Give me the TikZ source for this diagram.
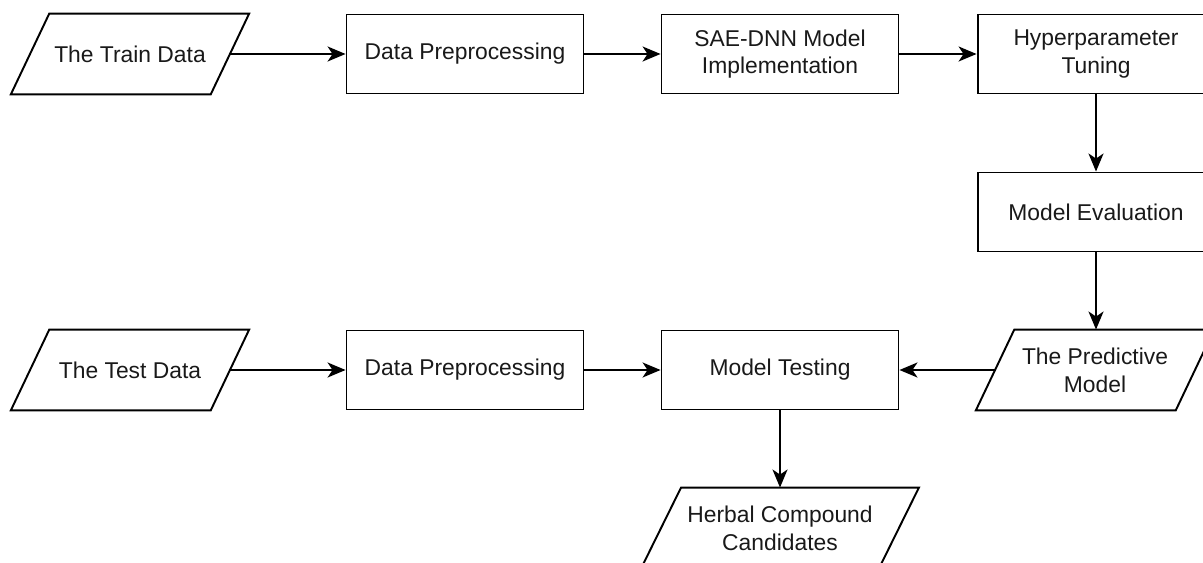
\documentclass[tikz,border=0pt]{standalone}
\usepackage{fontspec}
\setmainfont{Liberation Sans}
\usetikzlibrary{arrows.meta}
\tikzstyle{every picture}=[x=0.02cm,y=-0.02cm]
\tikzstyle{rand}=[line width=1.1pt]
\tikzstyle{kasten}=[draw,rand,minimum width=4.74cm,minimum height=1.58cm,inner sep=0pt,align=center,text=black!90,font=\fontsize{13}{15.8}\selectfont]
\tikzstyle{daten}=[kasten,draw=none,minimum width=3.96cm]
\tikzstyle{pfeil}=[rand,-{Stealth[length=3.6mm,width=3mm,inset=1mm]}]

\begin{document}
\begin{tikzpicture}
			\clip (0,0) rectangle (1203,563);
			% Obere Reihe
			\node[daten] (train) at (130,54) {The Train Data};
			\node[kasten] (prepA) at (465,54) {Data Preprocessing};
			\node[kasten] (sae) at (780,54) {SAE-DNN Model\\Implementation};
			\node[kasten] (hyper) at (1096,54) {Hyperparameter\\Tuning};
			% Rechte Spalte
			\node[kasten] (eval) at (1096,212) {Model Evaluation};
			\node[daten] (pred) at (1095,370) {The Predictive\\Model};
			% Untere Reihe
			\node[daten] (testdata) at (130,370) {The Test Data};
			\node[kasten] (prepB) at (465,370) {Data Preprocessing};
			\node[kasten] (mtest) at (780,370) {Model Testing};
			\node[daten,minimum width=4.72cm] (herbal) at (780,528) {Herbal Compound\\Candidates};
			% Parallelogramme zeichnen
			\foreach \n/\s in {train/0.385,testdata/0.385,pred/0.385,herbal/0.4}
				\draw[rand] ([xshift=\s cm]\n.north west) -- ([xshift=\s cm]\n.north east)
					-- ([xshift=-\s cm]\n.south east) -- ([xshift=-\s cm]\n.south west) -- cycle;
			% Pfeile zeichnen
			\draw[pfeil] (train) -- (prepA);
			\draw[pfeil] (prepA) -- (sae);
			\draw[pfeil] (sae) -- (hyper);
			\draw[pfeil] (hyper) -- (eval);
			\draw[pfeil] (eval) -- (eval |- pred.north);
			\draw[pfeil] (pred) -- (mtest);
			\draw[pfeil] (testdata) -- (prepB);
			\draw[pfeil] (prepB) -- (mtest);
			\draw[pfeil] (mtest) -- (herbal);
\end{tikzpicture}
\end{document}
